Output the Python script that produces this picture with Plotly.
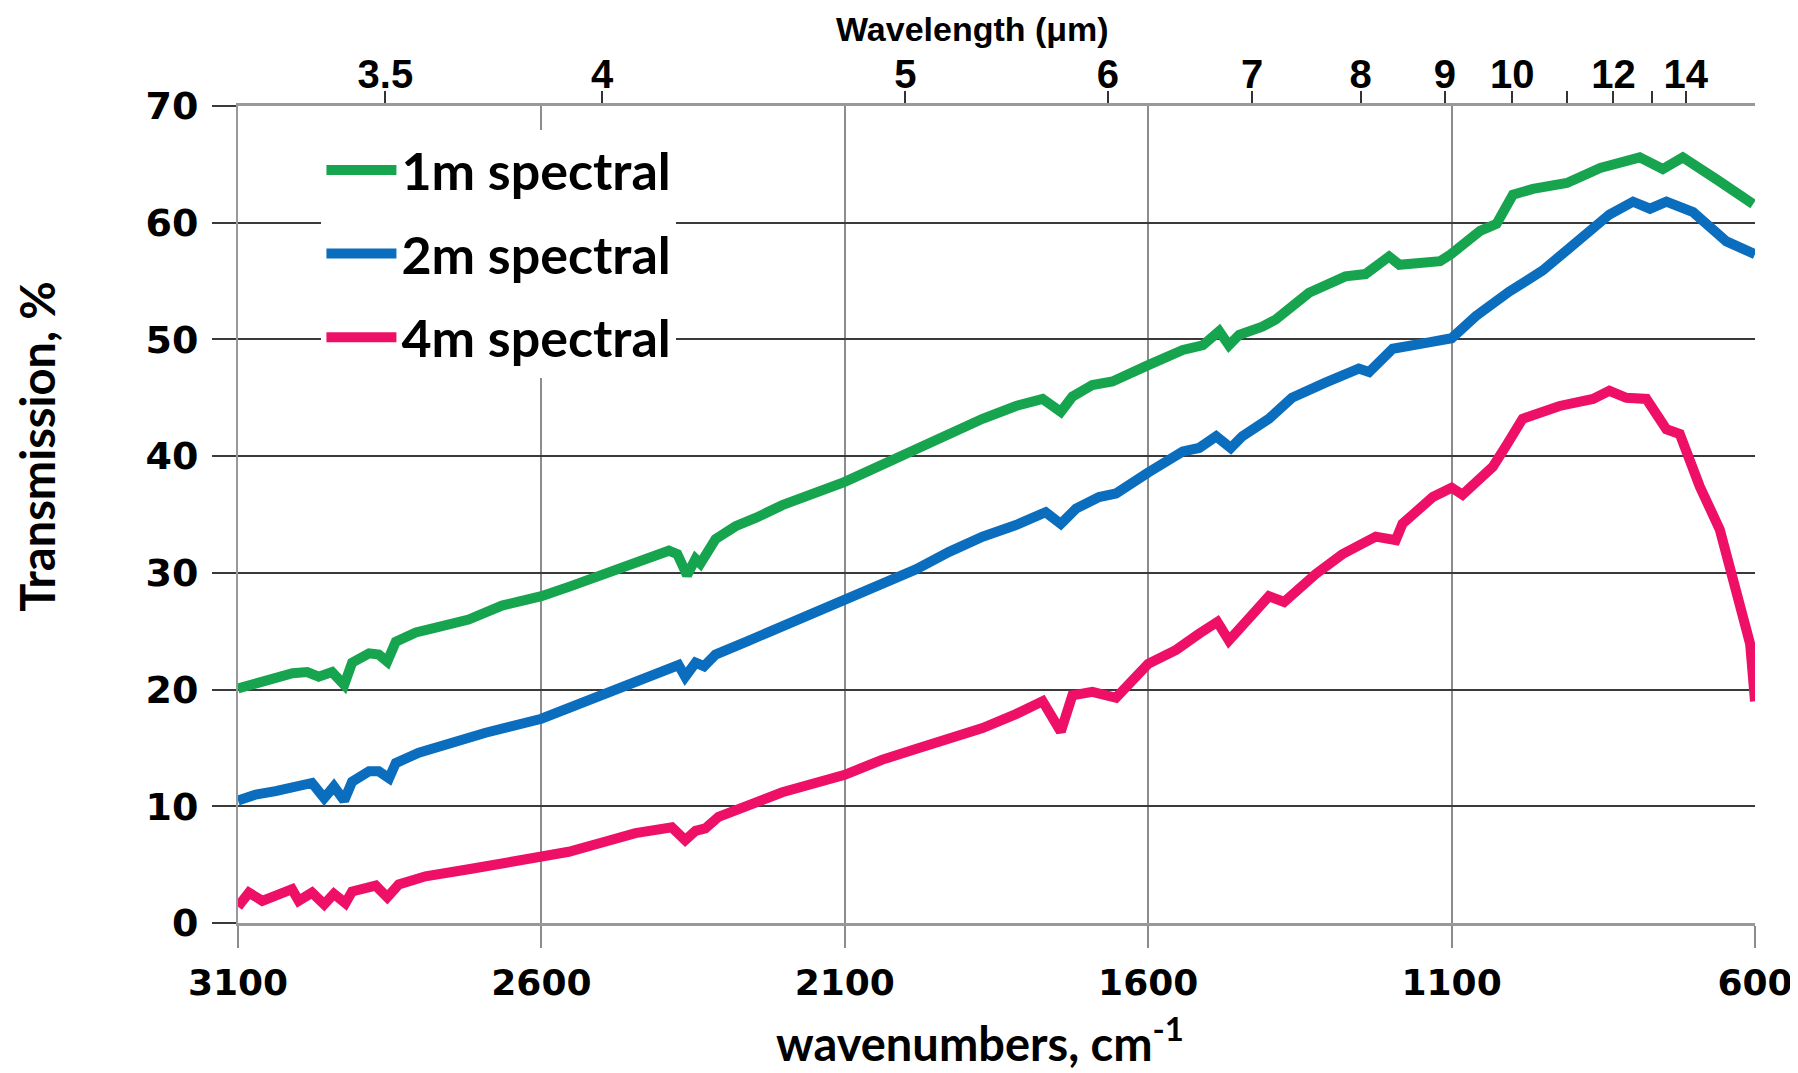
import plotly.graph_objects as go

# ---- data ----
wn_1m = [3100, 3071, 3038, 3010, 2986, 2967, 2945, 2925, 2912, 2884, 2868, 2854, 2840, 2807, 2774, 2720,
         2665, 2600, 2555, 2500, 2445, 2390, 2376, 2360, 2346, 2338, 2313, 2280, 2247, 2203, 2100, 2038,
         1983, 1928, 1873, 1818, 1774, 1744, 1725, 1692, 1659, 1600, 1543, 1510, 1483, 1467, 1450, 1412,
         1390, 1335, 1275, 1242, 1203, 1186, 1119, 1101, 1053, 1026, 999, 966, 910, 855, 790, 752, 719,
         663, 636, 603]
t_1m = [20.1, 20.5, 21.1, 21.4, 21.5, 21.1, 21.5, 20.4, 22.3, 23.1, 23.0, 22.4, 24.1, 24.9, 25.3, 26.0,
        27.2, 28.0, 28.8, 29.9, 30.8, 31.9, 31.6, 29.8, 31.2, 30.8, 32.9, 34.0, 34.7, 35.8, 37.8, 39.3,
        40.6, 41.9, 43.2, 44.3, 44.9, 43.8, 45.1, 46.1, 46.4, 47.8, 49.1, 49.5, 50.7, 49.5, 50.4, 51.1,
        51.7, 54.0, 55.4, 55.6, 57.1, 56.4, 56.7, 57.3, 59.3, 59.9, 62.4, 62.9, 63.4, 64.7, 65.6, 64.6, 65.6,
        63.7, 62.7, 61.6]

wn_2m = [3100, 3071, 3038, 3010, 2978, 2958, 2942, 2925, 2912, 2884, 2868, 2851, 2840, 2802, 2747, 2692,
         2600, 2555, 2500, 2445, 2374, 2363, 2346, 2332, 2313, 2258, 2203, 2100, 2038, 1983, 1928, 1873,
         1818, 1769, 1744, 1719, 1681, 1653, 1600, 1543, 1516, 1488, 1464, 1445, 1401, 1363, 1308, 1253,
         1236, 1197, 1142, 1100, 1060, 1005, 950, 895, 840, 801, 773, 746, 702, 647, 600]
t_2m = [10.5, 11.0, 11.3, 11.6, 12.0, 10.7, 11.7, 10.5, 12.1, 13.0, 13.0, 12.4, 13.7, 14.6, 15.5, 16.3,
        17.5, 18.4, 19.7, 20.7, 22.1, 21.1, 22.3, 22.0, 23.0, 24.2, 25.4, 27.6, 29.0, 30.3, 31.8, 33.1,
        34.1, 35.2, 34.2, 35.5, 36.5, 36.8, 38.6, 40.4, 40.7, 41.7, 40.7, 41.7, 43.2, 45.0, 46.3, 47.5,
        47.2, 49.2, 49.7, 50.1, 52.0, 54.1, 55.9, 58.2, 60.7, 61.8, 61.2, 61.8, 60.9, 58.4, 57.3]

wn_4m = [3100, 3082, 3060, 3033, 3011, 3000, 2978, 2958, 2942, 2923, 2912, 2873, 2854, 2835, 2791, 2720,
         2665, 2600, 2555, 2500, 2445, 2385, 2363, 2346, 2330, 2308, 2258, 2203, 2100, 2038, 1983, 1928,
         1873, 1818, 1774, 1744, 1725, 1692, 1653, 1600, 1554, 1516, 1486, 1467, 1434, 1401, 1376, 1324,
         1280, 1225, 1192, 1181, 1131, 1100, 1082, 1032, 1010, 983, 922, 867, 840, 812, 779, 746, 724,
         691, 658, 636, 619, 608, 600]
t_4m = [1.4, 2.6, 1.9, 2.5, 2.9, 1.9, 2.6, 1.6, 2.5, 1.7, 2.7, 3.2, 2.2, 3.3, 4.0, 4.6,
        5.1, 5.6, 6.1, 6.9, 7.7, 8.2, 7.1, 7.9, 8.1, 9.1, 10.2, 11.2, 12.7, 14.0, 14.9, 15.7,
        16.7, 17.9, 19.0, 16.4, 19.5, 19.8, 19.3, 22.2, 23.4, 24.8, 25.8, 24.2, 26.1, 28.0, 27.5, 29.9,
        31.6, 33.1, 32.8, 34.2, 36.5, 37.3, 36.7, 39.1, 40.9, 43.2, 44.3, 44.9, 45.6, 45.0, 44.9, 42.3, 41.9,
        37.4, 33.7, 29.6, 26.7, 23.9, 19.0]

series_names = ["1m spectral", "2m spectral", "4m spectral"]
series_colors = ["#17A44F", "#0A6DBD", "#EE1066"]

# top axis: wavelength ticks (µm)
wl_major = [3.5, 4, 5, 6, 7, 8, 9, 10, 12, 14]
wl_labels = ["3.5", "4", "5", "6", "7", "8", "9", "10", "12", "14"]
wl_minor = [11, 13]

x_range = [3100, 600]
y_ticks = [0, 10, 20, 30, 40, 50, 60, 70]

fig = go.Figure()
for wn, t, name, col in zip([wn_1m, wn_2m, wn_4m], [t_1m, t_2m, t_4m], series_names, series_colors):
    fig.add_trace(go.Scatter(x=wn, y=t, mode="lines", name=name, legendgroup=name,
                             line=dict(color=col, width=10)))

# invisible trace to carry the top (wavelength) axis
fig.add_trace(go.Scatter(x=[x_range[0], x_range[1]], y=[0, 0], xaxis="x2", mode="lines",
                         line=dict(width=0), showlegend=False, hoverinfo="skip"))

title_font = dict(family="Lato", size=47, color="black", weight="bold")

# the page body has an 8px default margin: figure is sized so that it fits the window
fig.update_layout(
    width=1790, height=1065,
    margin=dict(l=230, r=43, t=98, b=150),
    paper_bgcolor="white", plot_bgcolor="white",
    xaxis=dict(range=x_range, tick0=600, dtick=500, showgrid=True, gridcolor="#8c8c8c", gridwidth=2,
               showline=True, linecolor="#999999", linewidth=3, zeroline=False, automargin=False,
               ticks="outside", ticklen=22, tickwidth=2, tickcolor="#8c8c8c",
               tickfont=dict(family="DejaVu Sans", size=36, color="black", weight="bold"),
               ticklabelstandoff=4, ticklabeloverflow="allow"),
    xaxis2=dict(range=x_range, overlaying="x", side="top", anchor="y", automargin=False,
                tickmode="array", tickvals=[10000.0 / w for w in wl_major], ticktext=wl_labels,
                showgrid=False, zeroline=False, showline=True, linecolor="#999999", linewidth=3,
                ticks="outside", ticklen=12, tickwidth=2, tickcolor="#333333",
                minor=dict(tickvals=[10000.0 / w for w in wl_minor], ticks="outside", ticklen=12,
                           tickwidth=2, tickcolor="#333333", showgrid=False),
                tickfont=dict(family="Liberation Sans", size=40, color="black", weight="bold"),
                ticklabelstandoff=-13),
    yaxis=dict(range=[0, 70], tickvals=y_ticks, showgrid=True, gridcolor="#3a3a3a", gridwidth=2,
               showline=True, linecolor="#999999", linewidth=2, zeroline=False, automargin=False,
               ticks="outside", ticklen=24, tickwidth=2, tickcolor="#3a3a3a",
               tickfont=dict(family="DejaVu Sans", size=38, color="black", weight="bold"),
               ticklabelstandoff=6),
    legend=dict(x=0.055, y=0.971, xanchor="left", yanchor="top", bgcolor="white",
                borderwidth=0, tracegroupgap=13, itemwidth=70,
                font=dict(family="Lato", size=52, color="black", weight="bold")),
    showlegend=True,
    annotations=[
        dict(text="Transmission, %", textangle=-90, xref="paper", yref="paper",
             x=-0.1325, y=0.584, xanchor="center", yanchor="middle", showarrow=False, font=title_font),
        dict(text="wavenumbers, cm<sup>-1</sup>", xref="paper", yref="paper",
             x=0.489, y=-0.143, xanchor="center", yanchor="middle", showarrow=False, font=title_font),
        dict(text="Wavelength (μm)", xref="paper", yref="paper",
             x=0.484, y=1.094, xanchor="center", yanchor="middle", showarrow=False,
             font=dict(family="Liberation Sans", size=34, color="black", weight="bold")),
    ],
)

fig.write_html("out.html")
